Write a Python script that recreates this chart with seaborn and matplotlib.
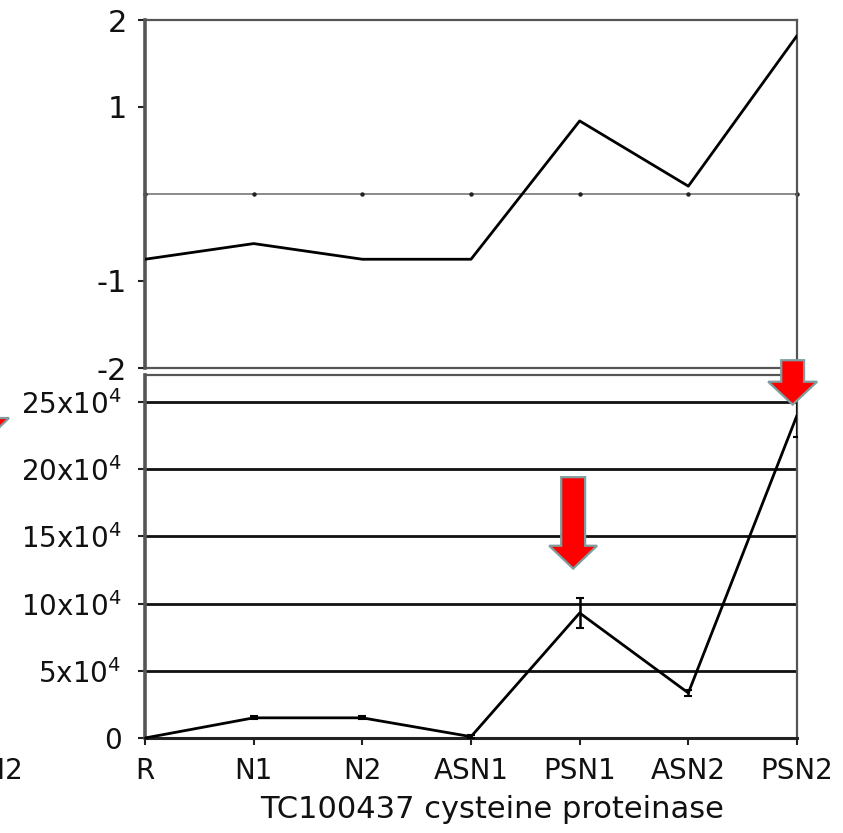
import numpy as np
import pandas as pd
import matplotlib
matplotlib.use("Agg")
import matplotlib.pyplot as plt
import seaborn as sns
from matplotlib.patches import FancyArrow, Polygon

categories = ["R", "N1", "N2", "ASN1", "PSN1", "ASN2", "PSN2"]
log_ratio = [-0.75, -0.57, -0.75, -0.75, 0.84, 0.09, 1.82]
expression = [0.0, 1.5e4, 1.5e4, 0.1e4, 9.3e4, 3.35e4, 24.0e4]
expression_err = [0.0, 0.1e4, 0.1e4, 0.1e4, 1.1e4, 0.25e4, 1.6e4]
top_ticks = [-2, -1, 1, 2]
top_ticklabels = ["-2", "-1", "1", "2"]
bottom_ticks = [0, 5e4, 10e4, 15e4, 20e4, 25e4]
bottom_ticklabels = ["0", r"5x10$^{4}$", r"10x10$^{4}$", r"15x10$^{4}$",
                     r"20x10$^{4}$", r"25x10$^{4}$"]
xlabel = "TC100437 cysteine proteinase"
arrow_targets = ["PSN1", "PSN2"]

sns.set_theme(style="white")
FONT = "DejaVu Sans"
plt.rcParams["font.family"] = [FONT]
plt.rcParams["mathtext.fontset"] = "custom"
plt.rcParams["mathtext.rm"] = FONT
plt.rcParams["mathtext.it"] = FONT
plt.rcParams["mathtext.bf"] = FONT

W, H = 843, 833
fig = plt.figure(figsize=(W / 100, H / 100), dpi=100)

def fx(px):
    return px / W

def fy(py):
    return 1 - py / H

L, R = 145, 797
ax1 = fig.add_axes([fx(L), fy(368), fx(R - L), (368 - 20) / H])
ax2 = fig.add_axes([fx(L), fy(738), fx(R - L), (738 - 375) / H])

df = pd.DataFrame({"cat": categories, "x": np.arange(len(categories)),
                   "ratio": log_ratio, "expr": expression, "err": expression_err})

FS = 20
spine_col = "#555555"
txt_col = "#111111"

# ---------- top panel ----------
ax1.axhline(0, color="#777777", lw=1.2, zorder=1)
ax1.plot(df["x"], np.zeros(len(df)), ls="none", marker="o", ms=2.2,
         color="#222222", zorder=2, clip_on=False)
sns.lineplot(data=df, x="x", y="ratio", ax=ax1, color="black", lw=2.0,
             sort=False, zorder=3)
ax1.set_xlim(0, len(categories) - 1)
ax1.set_ylim(-2, 2)
ax1.set_yticks(top_ticks)
ax1.set_yticklabels(top_ticklabels)
ax1.set_xticks([])
ax1.set_xlabel("")
ax1.set_ylabel("")
ax1.tick_params(axis="y", direction="out", length=5, width=1.5,
                colors="#222222", labelcolor=txt_col, labelsize=FS + 2,
                pad=8, left=True)
for s in ax1.spines.values():
    s.set_color(spine_col)
    s.set_linewidth(1.6)
ax1.spines["left"].set_linewidth(2.6)

# ---------- bottom panel ----------
for t in bottom_ticks[1:]:
    ax2.axhline(t, color="#111111", lw=2.0, zorder=1)
sns.lineplot(data=df, x="x", y="expr", ax=ax2, color="black", lw=2.0,
             sort=False, zorder=3)
ax2.errorbar(df["x"], df["expr"], yerr=df["err"], fmt="none",
             ecolor="black", elinewidth=1.8, capsize=3, capthick=1.5, zorder=3)
ax2.set_xlim(0, len(categories) - 1)
ax2.set_ylim(0, 27e4)
ax2.set_xticks(df["x"])
ax2.set_xticklabels(categories)
ax2.set_yticks(bottom_ticks)
ax2.set_yticklabels(bottom_ticklabels)
ax2.set_ylabel("")
ax2.set_xlabel(xlabel, fontsize=FS + 2, color=txt_col, va="top")
ax2.xaxis.set_label_coords(0.532, -0.158)
ax2.tick_params(axis="both", direction="out", length=5, width=1.5,
                colors="#222222", labelcolor=txt_col, labelsize=FS,
                left=True, bottom=True)
ax2.tick_params(axis="y", pad=12)
ax2.tick_params(axis="x", pad=9)
for s in ax2.spines.values():
    s.set_color(spine_col)
    s.set_linewidth(1.6)
ax2.spines["left"].set_linewidth(2.6)
ax2.spines["bottom"].set_color("#222222")
ax2.spines["bottom"].set_linewidth(2.2)

# ---------- red arrows ----------
arrow_specs = {
    "PSN1": dict(y0=19.4e4, tip=12.6e4, width=0.22, hw=0.44, hl=1.7e4, dx=-0.06),
    "PSN2": dict(y0=28.1e4, tip=24.8e4, width=0.21, hw=0.45, hl=1.7e4, dx=-0.04),
}
for name in arrow_targets:
    sp = arrow_specs[name]
    xi = categories.index(name) + sp["dx"]
    arr = FancyArrow(xi, sp["y0"], 0, sp["tip"] - sp["y0"], width=sp["width"],
                     head_width=sp["hw"], head_length=sp["hl"],
                     length_includes_head=True, facecolor="#ff0000",
                     edgecolor="#7f9c9e", lw=1.6, zorder=6, clip_on=False)
    ax2.add_patch(arr)

# ---------- fragments of neighbouring panel at left edge ----------
fig.text(fx(23), fy(771), "PSN2", ha="right", va="center", fontsize=FS,
         color=txt_col)
frag = Polygon([(fx(-39), fy(418)), (fx(9), fy(418)), (fx(-15), fy(441))],
               closed=True, transform=fig.transFigure, facecolor="#ff0000",
               edgecolor="#7f9c9e", lw=1.6)
fig.patches.append(frag)

fig.savefig("out.png", dpi=100)
